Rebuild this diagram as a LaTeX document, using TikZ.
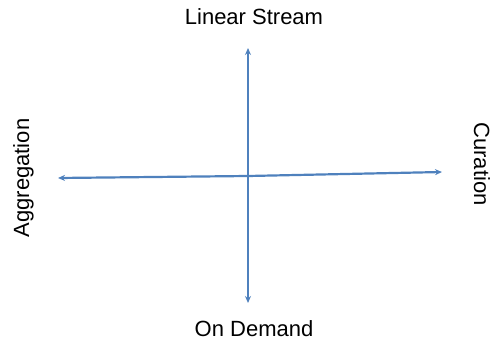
\documentclass[tikz,border=0pt]{standalone}
\usepackage{fontspec}
\setmainfont{Liberation Sans}
\usetikzlibrary{arrows.meta}
\definecolor{axisblue}{RGB}{79,129,189}
\begin{document}
\begin{tikzpicture}[x=1pt,y=-1pt,
  axis/.style={draw=axisblue,line width=2.2pt,-{Stealth[length=7pt,width=6pt]}},
  lbl/.style={font=\fontsize{22}{26}\selectfont,inner sep=0pt,anchor=base}]
\useasboundingbox (0,0) rectangle (494,342);
\coordinate (c) at (248,176);
\coordinate (top) at (248,48);
\coordinate (bot) at (248,303);
\coordinate (lft) at (58,178);
\coordinate (rgt) at (442,172);
\draw[axis] (c) -- (top);
\draw[axis] (c) -- (bot);
\draw[axis] (c) -- (lft);
\draw[axis] (c) -- (rgt);
\node[lbl] (ls) at (254,25) {Linear Stream};
\node[lbl] (od) at (254,336) {On Demand};
\node[lbl,rotate=90] (ag) at (29,178) {Aggregation};
\node[lbl,rotate=-90] (cu) at (474,164) {Curation};
\end{tikzpicture}
\end{document}
